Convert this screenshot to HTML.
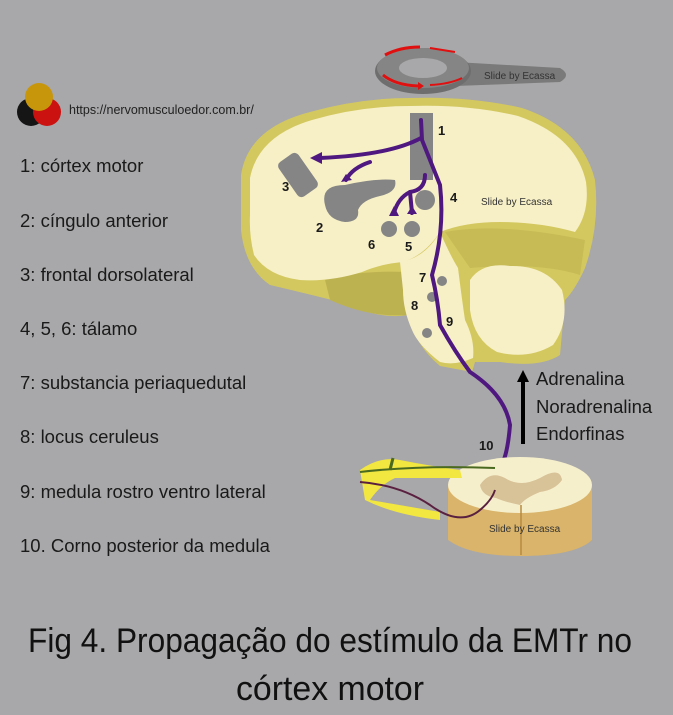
<!DOCTYPE html>
<html><head><meta charset="utf-8"><style>
html,body{margin:0;padding:0;background:#a8a7a9;}
svg{display:block}
text{font-family:"Liberation Sans",sans-serif}
</style></head><body>
<svg width="673" height="715" viewBox="0 0 673 715" xmlns="http://www.w3.org/2000/svg">
<rect width="673" height="715" fill="#a8a7a9"/>
<!-- logo -->
<circle cx="31" cy="112" r="14" fill="#151515"/>
<circle cx="47" cy="112" r="14" fill="#cc1111"/>
<circle cx="39" cy="97" r="14" fill="#c8960a"/>
<text x="69" y="114" font-size="12.5" fill="#222">https://nervomusculoedor.com.br/</text>
<!-- list -->
<g font-size="18.5" fill="#1a1a1a">
<text x="20" y="172">1: córtex motor</text>
<text x="20" y="227">2:  cíngulo anterior</text>
<text x="20" y="281">3: frontal dorsolateral</text>
<text x="20" y="335">4, 5, 6: tálamo</text>
<text x="20" y="389">7: substancia periaquedutal</text>
<text x="20" y="443">8: locus ceruleus</text>
<text x="20" y="498">9: medula rostro ventro lateral</text>
<text x="20" y="552">10. Corno posterior da medula</text>
</g>
<!-- coil -->
<path d="M455 62 L560 68 Q572 75 560 82 L455 86 Z" fill="#7a7a7a"/>
<ellipse cx="423" cy="71" rx="48" ry="23" fill="#6e6e6e"/>
<ellipse cx="423" cy="68" rx="46" ry="20" fill="#858585"/>
<ellipse cx="423" cy="68" rx="24" ry="10" fill="#a8a7a9"/>
<path d="M385 55 Q400 47 420 47" stroke="#e01010" stroke-width="3" fill="none"/>
<path d="M430 48 L455 52" stroke="#e01010" stroke-width="2" fill="none"/>
<path d="M383 75 Q395 85 418 86" stroke="#e01010" stroke-width="3" fill="none"/>
<polygon points="418,82 424,86 418,90" fill="#e01010"/>
<path d="M430 85 Q450 84 462 78" stroke="#e01010" stroke-width="2" fill="none"/>
<text x="484" y="79" font-size="10" fill="#333">Slide by Ecassa</text>
<!-- olive base of brain -->
<path d="M241 175 Q248 128 310 112 Q360 98 410 98 Q470 96 522 108 Q582 128 595 180 Q600 225 585 268 Q575 290 565 300 L560 355 Q540 368 500 362 L475 362 L472 372 L440 366 Q415 345 408 315 Q380 320 340 302 Q300 292 270 285 Q245 268 241 230 Z" fill="#d3c860"/>
<path d="M325 280 Q360 270 405 272 L408 315 Q370 318 330 300 Z" fill="#bdb250"/>
<path d="M445 232 Q500 222 585 240 L580 275 Q540 262 470 268 Z" fill="#c6bb55"/>
<!-- cerebrum cream -->
<path d="M250 178 Q258 136 312 120 Q360 106 410 106 Q468 104 518 116 Q576 136 586 182 Q590 212 575 232 Q540 222 500 222 Q465 222 440 232 Q425 255 403 262 Q380 264 362 272 Q330 282 300 280 Q268 276 254 255 Q249 235 250 215 Z" fill="#f7f0c6"/>
<!-- brainstem -->
<path d="M400 262 Q425 258 440 232 Q450 255 458 268 Q462 300 465 320 Q475 340 473 358 Q455 366 440 362 Q418 345 412 330 Q403 310 403 290 Z" fill="#f7f0c6"/>
<!-- cerebellum -->
<path d="M470 280 Q482 262 510 266 Q545 265 562 290 Q570 322 553 345 Q528 360 497 352 Q474 340 470 310 Z" fill="#f7f0c6"/>
<!-- gray structures -->
<rect x="410" y="113" width="23" height="67" fill="#858585"/>
<rect x="286" y="154" width="24" height="42" rx="5" fill="#858585" transform="rotate(-35 298 175)"/>
<path d="M325 205 Q320 185 345 185 Q375 178 395 180 Q398 192 380 196 Q362 200 358 210 Q360 222 345 222 Q328 220 325 205 Z" fill="#858585"/>
<circle cx="425" cy="200" r="10" fill="#858585"/>
<circle cx="389" cy="229" r="8" fill="#858585"/>
<circle cx="412" cy="229" r="8" fill="#858585"/>
<circle cx="442" cy="281" r="5" fill="#858585"/>
<circle cx="432" cy="297" r="5" fill="#858585"/>
<circle cx="427" cy="333" r="5" fill="#858585"/>
<!-- purple pathways -->
<g stroke="#4f1880" stroke-width="4" fill="none" stroke-linecap="round">
<path d="M421 120 L422 140 Q430 160 440 185 Q445 230 432 275 Q438 300 440 325 Q455 352 470 372 Q505 395 510 425 Q508 450 503 462"/>
<path d="M421 138 Q390 155 320 158"/>
<path d="M370 162 Q352 168 346 180"/>
<path d="M425 175 Q425 190 410 192 Q398 198 394 213"/>
<path d="M410 192 L412 213"/>
</g>
<g fill="#4f1880">
<polygon points="310,158 322,152 322,164"/>
<polygon points="341,182 346,174 352,180"/>
<polygon points="389,216 394,206 399,216"/>
<polygon points="407,214 412,206 417,214"/>
<polygon points="497,460 503,468 508,458"/>
</g>
<!-- labels -->
<g font-size="13" font-weight="bold" fill="#1a1a1a">
<text x="438" y="135">1</text>
<text x="282" y="191">3</text>
<text x="316" y="232">2</text>
<text x="368" y="249">6</text>
<text x="405" y="251">5</text>
<text x="450" y="202">4</text>
<text x="419" y="282">7</text>
<text x="411" y="310">8</text>
<text x="446" y="326">9</text>
<text x="479" y="450">10</text>
</g>
<text x="481" y="205" font-size="10" fill="#333">Slide by Ecassa</text>
<!-- arrow and neurotransmitters -->
<line x1="523" y1="444" x2="523" y2="380" stroke="#000" stroke-width="4"/>
<polygon points="517,382 523,370 529,382" fill="#000"/>
<g font-size="18.5" fill="#1a1a1a">
<text x="536" y="385">Adrenalina</text>
<text x="536" y="413">Noradrenalina</text>
<text x="536" y="440">Endorfinas</text>
</g>
<!-- spinal cord -->
<path d="M448 485 L448 540 Q470 556 520 556 Q575 556 592 540 L592 485 Z" fill="#d9b46a"/>
<ellipse cx="520" cy="485" rx="72" ry="28" fill="#f6efcc"/>
<path d="M480 485 Q490 470 505 478 Q520 488 540 478 Q560 466 562 480 Q555 490 540 492 Q525 498 520 505 Q505 502 496 498 Q482 496 480 485 Z" fill="#d8c298"/>
<line x1="521" y1="505" x2="521" y2="555" stroke="#b88a40" stroke-width="1.5"/>
<path d="M360 470 Q380 456 400 460 Q430 466 460 470 L462 478 Q420 478 395 478 Q380 485 370 500 Q400 505 440 512 L440 520 Q395 515 365 500 Z" fill="#f2e640"/>
<path d="M360 472 Q420 465 495 468" stroke="#4a6a20" stroke-width="2" fill="none"/>
<path d="M390 470 L393 458" stroke="#4a6a20" stroke-width="3" fill="none"/>
<path d="M360 482 Q400 485 430 505 Q460 527 480 510 Q492 500 495 490" stroke="#5a2040" stroke-width="2" fill="none"/>
<text x="489" y="532" font-size="10" fill="#333">Slide by Ecassa</text>
<!-- caption -->
<text x="28" y="652" font-size="34" fill="#111" textLength="604" lengthAdjust="spacingAndGlyphs">Fig 4. Propagação do estímulo da EMTr  no</text>
<text x="236" y="700" font-size="34" fill="#111" textLength="188" lengthAdjust="spacingAndGlyphs">córtex motor</text>
</svg>
</body></html>
